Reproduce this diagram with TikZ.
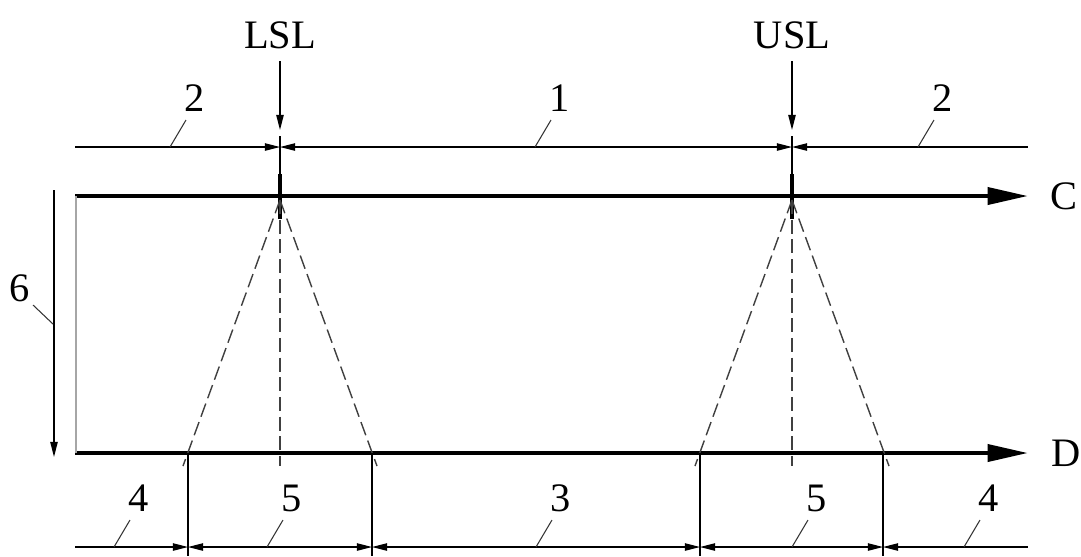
\documentclass[tikz,border=0pt]{standalone}
\usepackage{fontspec}
\setmainfont{Liberation Serif}
\usetikzlibrary{arrows.meta}

\begin{document}
\begin{tikzpicture}[
    x=0.01cm, y=-0.01cm, % one unit = one pixel of the layout
    >={Triangle[length=4.3pt, width=2.1pt]}, % default tip for thin arrows
    every node/.style={font=\fontsize{11.5}{13}\selectfont},
    axis/.style={line width=1.2pt, -{Triangle[length=11.5pt, width=4.8pt]}}, % C and D axes
    thinline/.style={line width=0.35pt},
    limittick/.style={line width=1.3pt}, % tick at a limit on the C axis
    cone/.style={line width=0.4pt, black!75, dash pattern=on 4pt off 1.6pt},
    leader/.style={line width=0.3pt, black!80}
]
\useasboundingbox (0,0) rectangle (1081,556);

% Axes
\coordinate (c0) at (75,196);
\coordinate (c1) at (1028,196);
\coordinate (d0) at (75,453);
\coordinate (d1) at (1028,453);
\draw[axis] (c0) -- (c1);
\draw[axis] (d0) -- (d1);
\node (clab) at (1064,196) {C};
\node (dlab) at (1066,453) {D};

% Limit labels and arrows
\node (lsl) at (280,35) {LSL};
\node (usl) at (792,35) {USL};
\coordinate (lslend) at (280,130);
\coordinate (uslend) at (792,130);
\draw[thinline, ->] (lsl.south) -- (lslend);
\draw[thinline, ->] (usl.south) -- (uslend);

% Extension lines and ticks at the limits
\foreach \n/\x in {l/280, u/792} {
    \coordinate (\n ext) at (\x,136);
    \coordinate (\n axis) at (\x,196);
    \coordinate (\n tick0) at (\x,174);
    \coordinate (\n tick1) at (\x,219);
    \draw[thinline] (\n ext) -- (\n axis);
    \draw[limittick] (\n tick0) -- (\n tick1);
}

% Top dimension line
\coordinate (tl) at (75,147);
\coordinate (ldim) at (280,147);
\coordinate (udim) at (792,147);
\coordinate (tr) at (1028,147);
\draw[thinline, ->] (tl) -- (ldim);
\draw[thinline, <->] (ldim) -- (udim);
\draw[thinline, <-] (udim) -- (tr);

% Dashed cones from the limits down to D
\foreach \n/\x in {l/280, u/792} {
    \coordinate (\n apex) at (\x,200);
    \draw[cone] (\n apex) -- (\x-97,466);
    \draw[cone] (\n apex) -- (\x,466);
    \draw[cone] (\n apex) -- (\x+97,466);
}

% Bottom extension lines
\foreach \x in {188, 372, 700, 883} {
    \coordinate (ext\x) at (\x,453);
    \draw[thinline] (ext\x) -- (\x,556);
}

% Bottom dimension line
\coordinate (bl) at (75,547);
\coordinate (b188) at (188,547);
\coordinate (b372) at (372,547);
\coordinate (b700) at (700,547);
\coordinate (b883) at (883,547);
\coordinate (br) at (1028,547);
\draw[thinline, ->] (bl) -- (b188);
\draw[thinline, <->] (b188) -- (b372);
\draw[thinline, <->] (b372) -- (b700);
\draw[thinline, <->] (b700) -- (b883);
\draw[thinline, <-] (b883) -- (br);

% Distance between C and D
\coordinate (g0) at (76,196);
\coordinate (g1) at (76,453);
\draw[line width=0.8pt, black!35] (g0) -- (g1);
\coordinate (s0) at (54,190);
\coordinate (s1) at (54,457);
\draw[thinline, ->] (s0) -- (s1);
\node (n6) at (20,288) {6};
\draw[leader] (n6) ++(13,17) -- ++(20,19);

% Numbered labels
\node (t2l) at (195,98) {2};
\node (t1) at (560,98) {1};
\node (t2r) at (943,98) {2};
\node (b4l) at (139,498) {4};
\node (b5l) at (292,498) {5};
\node (b3) at (561,498) {3};
\node (b5r) at (817,498) {5};
\node (b4r) at (989,498) {4};
\foreach \n in {t2l, t1, t2r, b4l, b5l, b3, b5r, b4r}
    \draw[leader] (\n) ++(-9,22) -- ++(-16,27);

\end{tikzpicture}
\end{document}
